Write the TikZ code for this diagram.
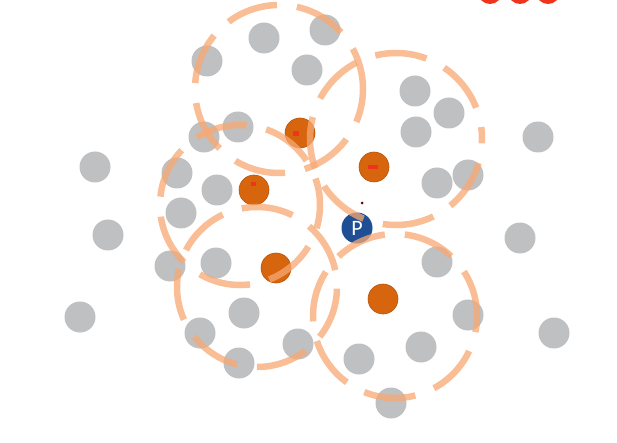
\documentclass[tikz,border=0pt]{standalone}
\usepackage{fontspec}
\newfontfamily\pfont{Carlito}
\usepackage{xcolor}
\usepackage{tikz}
\usetikzlibrary{positioning,calc}
\definecolor{dotgray}{HTML}{BFC0C2}
\definecolor{coreorange}{HTML}{D6650E}
\definecolor{coreedge}{HTML}{B8560C}
\definecolor{epsorange}{HTML}{F8A873}
\definecolor{pblue}{HTML}{1E4F95}
\definecolor{titlered}{HTML}{F0341C}

\begin{document}
\begin{tikzpicture}[
    x=1pt, y=-1pt,
    graydot/.style={circle, fill=dotgray, minimum size=31pt, inner sep=0pt},
    coredot/.style={circle, fill=coreorange, draw=coreedge, line width=0.6pt, minimum size=30pt, inner sep=0pt},
    pdot/.style={circle, fill=pblue, minimum size=31pt, inner sep=0pt, text=white, font=\pfont\fontsize{22}{22}\selectfont},
    epscircle/.style={draw=epsorange, draw opacity=0.75, line width=6.5pt, dash pattern=on 52pt off 20pt}
]
\useasboundingbox (0,0) rectangle (617,443);

% cut-off title
\begin{scope}
\clip (0,0) rectangle (617,443);
\fill[titlered] (490,-8) circle[radius=12pt];
\fill[titlered] (520,-8) circle[radius=12pt];
\fill[titlered] (548,-8) circle[radius=12pt];
\end{scope}

% noise and border points
\node [graydot] (g1) at (264,38) {};
\node [graydot] (g2) at (325,30) {};
\node [graydot] (g3) at (207,61) {};
\node [graydot] (g4) at (307,70) {};
\node [graydot] (g5) at (415,91) {};
\node [graydot] (g6) at (449,113) {};
\node [graydot] (g7) at (416,132) {};
\node [graydot] (g8) at (238,127) {};
\node [graydot] (g9) at (204,137) {};
\node [graydot] (g10) at (538,137) {};
\node [graydot] (g11) at (95,167) {};
\node [graydot] (g12) at (177,173) {};
\node [graydot] (g13) at (217,190) {};
\node [graydot] (g14) at (181,213) {};
\node [graydot] (g15) at (437,183) {};
\node [graydot] (g16) at (468,175) {};
\node [graydot] (g17) at (108,235) {};
\node [graydot] (g18) at (520,238) {};
\node [graydot] (g19) at (216,263) {};
\node [graydot] (g20) at (170,266) {};
\node [graydot] (g21) at (437,262) {};
\node [graydot] (g22) at (80,317) {};
\node [graydot] (g23) at (244,313) {};
\node [graydot] (g24) at (468,315) {};
\node [graydot] (g25) at (200,333) {};
\node [graydot] (g26) at (298,344) {};
\node [graydot] (g27) at (421,347) {};
\node [graydot] (g28) at (359,359) {};
\node [graydot] (g29) at (554,333) {};
\node [graydot] (g30) at (239,363) {};
\node [graydot] (g31) at (391,403) {};

% core points
\node [coredot] (c1) at (300,133) {};
\node [coredot] (c2) at (374,167) {};
\node [coredot] (c3) at (254,190) {};
\node [coredot] (c4) at (276,268) {};
\node [coredot] (c5) at (383,299) {};
\fill[titlered] ($(c1)+(-7,-2)$) rectangle ($(c1)+(-1,3)$);
\fill[titlered] ($(c2)+(-6,-2)$) rectangle ($(c2)+(4,2)$);
\fill[titlered] ($(c3)+(-3,-8)$) rectangle ($(c3)+(2,-4)$);

% the point p
\node [pdot] (p) at (357,228) {P};
\fill[red!40!black] (362,203) circle[radius=1.5pt];

% eps neighbourhoods
\draw [epscircle, dash phase=10pt] (279,89) circle[radius=84pt];
\draw [epscircle, dash phase=40pt] (396,139) circle[radius=86pt];
\draw [epscircle, dash phase=25pt] (240,205) circle[radius=80pt];
\draw [epscircle, dash phase=55pt] (257,287) circle[radius=80pt];
\draw [epscircle, dash phase=5pt] (395,316) circle[radius=82pt];

\end{tikzpicture}
\end{document}
